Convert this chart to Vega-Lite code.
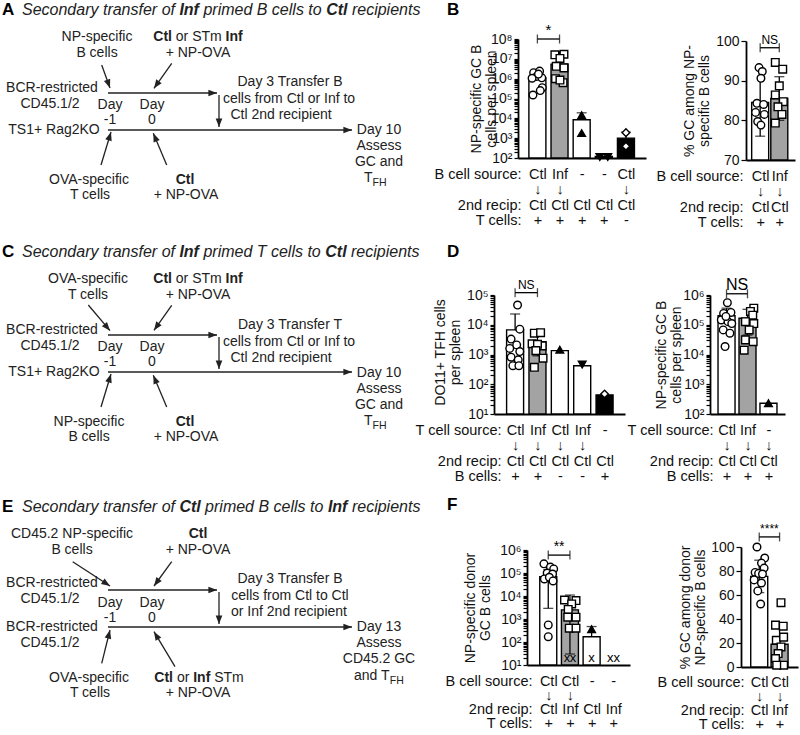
{
"$schema": "https://vega.github.io/schema/vega-lite/v6.json",
"padding": 0,
"background": "white",
"columns": 3,
"spacing": 0,
"bounds": "flush",
"align": "each",
"config": {"view": {"stroke": null}, "font": "Liberation Sans", "axis": {"labelFont": "Liberation Sans", "titleFont": "Liberation Sans"}},
"datasets": {
"sA": [
{"k":"lt","x":2,"y":15,"t":"A"},
{"k":"hi","x":22,"y":15,"t":"Secondary transfer of"},
{"k":"hb","x":179.4,"y":15,"t":"Inf"},
{"k":"hi","x":203.4,"y":15,"t":"primed B cells to"},
{"k":"hb","x":326.2,"y":15,"t":"Ctl"},
{"k":"hi","x":351.9,"y":15,"t":"recipients"},
{"k":"lt","x":447,"y":15,"t":"B"},
{"k":"c","x":97,"y":41,"t":"NP-specific"},
{"k":"c","x":97,"y":57,"t":"B cells"},
{"k":"b","x":153.3,"y":41,"t":"Ctl"},
{"k":"l","x":175.8,"y":41,"t":"or STm"},
{"k":"b","x":225.6,"y":41,"t":"Inf"},
{"k":"c","x":198,"y":57,"t":"+ NP-OVA"},
{"k":"c","x":52,"y":92,"t":"BCR-restricted"},
{"k":"c","x":50,"y":108,"t":"CD45.1/2"},
{"k":"c","x":110,"y":108.5,"t":"Day"},
{"k":"c","x":152,"y":108.5,"t":"Day"},
{"k":"c","x":110,"y":124,"t":"-1"},
{"k":"c","x":152,"y":124,"t":"0"},
{"k":"c","x":54,"y":134,"t":"TS1+ Rag2KO"},
{"k":"c","x":290,"y":86,"t":"Day 3 Transfer B"},
{"k":"c","x":289,"y":103,"t":"cells from Ctl or Inf to"},
{"k":"c","x":281,"y":119,"t":"Ctl 2nd recipient"},
{"k":"c","x":379,"y":134,"t":"Day 10"},
{"k":"c","x":379,"y":150,"t":"Assess"},
{"k":"c","x":379,"y":166,"t":"GC and"},
{"k":"l","x":364,"y":182,"t":"T"},
{"k":"s","x":372.5,"y":186,"t":"FH"},
{"k":"c","x":89,"y":184,"t":"OVA-specific"},
{"k":"c","x":90,"y":199,"t":"T cells"},
{"k":"bc","x":185,"y":184,"t":"Ctl"},
{"k":"c","x":186,"y":199,"t":"+ NP-OVA"},
{"k":"ar","x":101.7,"y":65,"x2":110,"y2":88,"a":160},
{"k":"ar","x":171.7,"y":63.3,"x2":154,"y2":88.3,"a":215},
{"k":"ar","x":108,"y":93,"x2":217,"y2":93,"a":90},
{"k":"ar","x":108,"y":130,"x2":352,"y2":130,"a":90},
{"k":"ar","x":219,"y":95,"x2":219,"y2":127,"a":180},
{"k":"ar","x":101,"y":165,"x2":111,"y2":132,"a":17},
{"k":"ar","x":166.7,"y":165,"x2":153.3,"y2":133.3,"a":337}
],
"sC": [
{"k":"lt","x":2,"y":15,"t":"C"},
{"k":"hi","x":22,"y":15,"t":"Secondary transfer of"},
{"k":"hb","x":179.4,"y":15,"t":"Inf"},
{"k":"hi","x":203.4,"y":15,"t":"primed T cells to"},
{"k":"hb","x":325.3,"y":15,"t":"Ctl"},
{"k":"hi","x":351,"y":15,"t":"recipients"},
{"k":"lt","x":447,"y":15,"t":"D"},
{"k":"c","x":88,"y":41,"t":"OVA-specific"},
{"k":"c","x":88,"y":57,"t":"T cells"},
{"k":"b","x":153.3,"y":41,"t":"Ctl"},
{"k":"l","x":175.8,"y":41,"t":"or STm"},
{"k":"b","x":225.6,"y":41,"t":"Inf"},
{"k":"c","x":198,"y":57,"t":"+ NP-OVA"},
{"k":"c","x":52,"y":92,"t":"BCR-restricted"},
{"k":"c","x":50,"y":108,"t":"CD45.1/2"},
{"k":"c","x":110,"y":108.5,"t":"Day"},
{"k":"c","x":152,"y":108.5,"t":"Day"},
{"k":"c","x":110,"y":124,"t":"-1"},
{"k":"c","x":152,"y":124,"t":"0"},
{"k":"c","x":54,"y":134,"t":"TS1+ Rag2KO"},
{"k":"c","x":290,"y":87,"t":"Day 3 Transfer T"},
{"k":"c","x":289,"y":104,"t":"cells from Ctl or Inf to"},
{"k":"c","x":281,"y":120,"t":"Ctl 2nd recipient"},
{"k":"c","x":379,"y":135,"t":"Day 10"},
{"k":"c","x":379,"y":151,"t":"Assess"},
{"k":"c","x":379,"y":167,"t":"GC and"},
{"k":"l","x":364,"y":183,"t":"T"},
{"k":"s","x":372.5,"y":187,"t":"FH"},
{"k":"c","x":89,"y":184,"t":"NP-specific"},
{"k":"c","x":89,"y":199,"t":"B cells"},
{"k":"bc","x":185,"y":184,"t":"Ctl"},
{"k":"c","x":186,"y":199,"t":"+ NP-OVA"},
{"k":"ar","x":88.3,"y":63,"x2":110,"y2":88.7,"a":140},
{"k":"ar","x":171.7,"y":63.3,"x2":154,"y2":88.3,"a":215},
{"k":"ar","x":108,"y":93,"x2":217,"y2":93,"a":90},
{"k":"ar","x":108,"y":130,"x2":352,"y2":130,"a":90},
{"k":"ar","x":219,"y":95,"x2":219,"y2":127,"a":180},
{"k":"ar","x":101,"y":165,"x2":111,"y2":132,"a":17},
{"k":"ar","x":166.7,"y":165,"x2":153.3,"y2":133.3,"a":337}
],
"sE": [
{"k":"lt","x":2,"y":15,"t":"E"},
{"k":"hi","x":22,"y":15,"t":"Secondary transfer of"},
{"k":"hb","x":179.4,"y":15,"t":"Ctl"},
{"k":"hi","x":205.1,"y":15,"t":"primed B cells to"},
{"k":"hb","x":327.9,"y":15,"t":"Inf"},
{"k":"hi","x":351.9,"y":15,"t":"recipients"},
{"k":"lt","x":447,"y":13,"t":"F"},
{"k":"c","x":72,"y":41,"t":"CD45.2 NP-specific"},
{"k":"c","x":72,"y":57,"t":"B cells"},
{"k":"bc","x":198,"y":41,"t":"Ctl"},
{"k":"c","x":198,"y":57,"t":"+ NP-OVA"},
{"k":"c","x":52,"y":90,"t":"BCR-restricted"},
{"k":"c","x":50,"y":106,"t":"CD45.1/2"},
{"k":"c","x":110,"y":110,"t":"Day"},
{"k":"c","x":152,"y":110,"t":"Day"},
{"k":"c","x":110,"y":125,"t":"-1"},
{"k":"c","x":152,"y":125,"t":"0"},
{"k":"c","x":52,"y":134,"t":"BCR-restricted"},
{"k":"c","x":50,"y":150,"t":"CD45.1/2"},
{"k":"c","x":290,"y":86,"t":"Day 3 Transfer B"},
{"k":"c","x":290,"y":103,"t":"cells from Ctl to Ctl"},
{"k":"c","x":289,"y":119,"t":"or Inf 2nd recipient"},
{"k":"c","x":379,"y":134,"t":"Day 13"},
{"k":"c","x":379,"y":150,"t":"Assess"},
{"k":"c","x":379,"y":166,"t":"CD45.2 GC"},
{"k":"l","x":354,"y":183,"t":"and T"},
{"k":"s","x":389.8,"y":187,"t":"FH"},
{"k":"c","x":89,"y":185,"t":"OVA-specific"},
{"k":"c","x":90,"y":200,"t":"T cells"},
{"k":"b","x":154.3,"y":185,"t":"Ctl"},
{"k":"l","x":176.9,"y":185,"t":"or"},
{"k":"b","x":193.2,"y":185,"t":"Inf"},
{"k":"l","x":214.2,"y":185,"t":"STm"},
{"k":"c","x":198,"y":200,"t":"+ NP-OVA"},
{"k":"ar","x":72.7,"y":64.7,"x2":110,"y2":89,"a":123},
{"k":"ar","x":171.7,"y":64.7,"x2":154,"y2":89,"a":216},
{"k":"ar","x":108,"y":93,"x2":217,"y2":93,"a":90},
{"k":"ar","x":108,"y":130,"x2":352,"y2":130,"a":90},
{"k":"ar","x":219,"y":95,"x2":219,"y2":127,"a":180},
{"k":"ar","x":101.7,"y":166.3,"x2":110,"y2":133,"a":14},
{"k":"ar","x":175,"y":169.7,"x2":154,"y2":134.7,"a":329}
],
"b1": [{"x":1,"v":1100000,"hi":2000000},{"x":2,"v":5400000,"hi":23000000},{"x":3,"v":8500,"hi":19000},{"x":4,"v":120},{"x":5,"v":1000,"hi":2000}],
"b1p": [
{"bar":1,"x":0.83,"v":2000000},{"bar":1,"x":1.1,"v":2400000},{"bar":1,"x":0.97,"v":1300000},{"bar":1,"x":0.76,"v":1050000},{"bar":1,"x":1.2,"v":1100000},{"bar":1,"x":1.05,"v":1700000},{"bar":1,"x":1.22,"v":350000},{"bar":1,"x":0.8,"v":150000},{"bar":1,"x":1.13,"v":250000},
{"bar":2,"x":1.79,"v":16000000},{"bar":2,"x":2.2,"v":17000000},{"bar":2,"x":2.02,"v":10500000},{"bar":2,"x":1.85,"v":4200000},{"bar":2,"x":2.2,"v":3500000},{"bar":2,"x":1.82,"v":1000000},{"bar":2,"x":2.16,"v":630000},{"bar":2,"x":2.02,"v":850000},
{"bar":3,"x":3,"v":14500},{"bar":3,"x":3,"v":1800},
{"bar":4,"x":3.82,"v":112},{"bar":4,"x":4.18,"v":112},
{"bar":5,"x":5,"v":1900},{"bar":5,"x":5,"v":390}
],
"b1s": [{"x":1,"x2":2,"xm":1.5,"v":100000000,"t":"*"}],
"b2": [{"x":1,"v":84.5,"hi":93,"lo":76},{"x":2,"v":85.5,"hi":91,"lo":80}],
"b2p": [
{"bar":1,"x":0.94,"v":93.3},{"bar":1,"x":1.11,"v":92.3},{"bar":1,"x":1.04,"v":90.6},{"bar":1,"x":0.83,"v":84.3},{"bar":1,"x":1.18,"v":84.0},{"bar":1,"x":0.76,"v":82.0},{"bar":1,"x":1.22,"v":81.5},{"bar":1,"x":0.87,"v":79.7},{"bar":1,"x":1.04,"v":78.8},
{"bar":2,"x":1.79,"v":94.6},{"bar":2,"x":2.18,"v":92.9},{"bar":2,"x":2.0,"v":88.7},{"bar":2,"x":1.79,"v":86.4},{"bar":2,"x":2.21,"v":84.7},{"bar":2,"x":1.93,"v":83.4},{"bar":2,"x":2.14,"v":81.5},{"bar":2,"x":1.79,"v":79.3}
],
"b2s": [{"x":1,"x2":2,"xm":1.5,"v":98.3,"t":"NS"}],
"d1": [{"x":1,"v":6700,"hi":23000},{"x":2,"v":2700,"hi":6700,"lo":900},{"x":3,"v":1350},{"x":4,"v":420},{"x":5,"v":44}],
"d1p": [
{"bar":1,"x":1.11,"v":46000},{"bar":1,"x":1.21,"v":7100},{"bar":1,"x":0.82,"v":3300},{"bar":1,"x":1.07,"v":2100},{"bar":1,"x":0.76,"v":1600},{"bar":1,"x":1.21,"v":1250},{"bar":1,"x":0.82,"v":810},{"bar":1,"x":1.14,"v":660},{"bar":1,"x":0.9,"v":420},{"bar":1,"x":1.17,"v":420},
{"bar":2,"x":1.86,"v":5200},{"bar":2,"x":2.14,"v":5400},{"bar":2,"x":1.76,"v":2300},{"bar":2,"x":2.21,"v":1950},{"bar":2,"x":2.0,"v":2200},{"bar":2,"x":1.93,"v":1350},{"bar":2,"x":2.25,"v":750},{"bar":2,"x":1.86,"v":370},
{"bar":3,"x":3,"v":1450},{"bar":4,"x":4,"v":460},{"bar":5,"x":5,"v":47}
],
"d1s": [{"x":1,"x2":2,"xm":1.5,"v":120000,"t":"NS"}],
"d2": [{"x":1,"v":200000,"hi":360000},{"x":2,"v":165000,"hi":330000,"lo":45000},{"x":3,"v":230}],
"d2p": [
{"bar":1,"x":1.04,"v":550000},{"bar":1,"x":0.86,"v":240000},{"bar":1,"x":1.21,"v":260000},{"bar":1,"x":0.75,"v":145000},{"bar":1,"x":1.07,"v":127000},{"bar":1,"x":1.25,"v":110000},{"bar":1,"x":0.84,"v":67000},{"bar":1,"x":1.16,"v":52000},{"bar":1,"x":0.97,"v":190000},{"bar":1,"x":0.93,"v":18500},
{"bar":2,"x":2.3,"v":360000},{"bar":2,"x":2.14,"v":280000},{"bar":2,"x":2.25,"v":210000},{"bar":2,"x":1.9,"v":127000},{"bar":2,"x":2.3,"v":110000},{"bar":2,"x":2.08,"v":67000},{"bar":2,"x":1.9,"v":31000},{"bar":2,"x":2.27,"v":27000},{"bar":2,"x":1.84,"v":14000},
{"bar":3,"x":3,"v":230}
],
"d2s": [{"x":1,"x2":2,"xm":1.5,"v":1100000,"t":"NS"}],
"f1": [{"x":1,"v":69000,"hi":140000,"lo":2900},{"x":2,"v":2500,"hi":11000,"lo":30},{"x":3,"v":170,"hi":470}],
"f1p": [
{"bar":1,"x":0.8,"v":250000},{"bar":1,"x":1.1,"v":180000},{"bar":1,"x":1.25,"v":150000},{"bar":1,"x":0.95,"v":100000},{"bar":1,"x":1.2,"v":90000},{"bar":1,"x":0.82,"v":55000},{"bar":1,"x":1.05,"v":65000},{"bar":1,"x":1.22,"v":45000},{"bar":1,"x":1.0,"v":550},{"bar":1,"x":1.0,"v":170},
{"bar":2,"x":1.75,"v":6700},{"bar":2,"x":2.28,"v":6300},{"bar":2,"x":2.08,"v":4500},{"bar":2,"x":1.92,"v":2600},{"bar":2,"x":1.9,"v":1200},{"bar":2,"x":2.28,"v":1200},{"bar":2,"x":1.97,"v":400},{"bar":2,"x":2.28,"v":400},
{"bar":3,"x":3,"v":360}
],
"f1x": [{"x":1.86,"v":20},{"x":2.14,"v":20},{"x":3,"v":20},{"x":3.86,"v":20},{"x":4.16,"v":20}],
"f1s": [{"x":1,"x2":2,"xm":1.5,"v":600000,"t":"**"}],
"f2": [{"x":1,"v":75.5,"hi":89,"lo":62},{"x":2,"v":19,"hi":36.5,"lo":2}],
"f2p": [
{"bar":1,"x":0.89,"v":100},{"bar":1,"x":1.27,"v":90.8},{"bar":1,"x":1.11,"v":86.6},{"bar":1,"x":1.24,"v":82.4},{"bar":1,"x":0.8,"v":78.8},{"bar":1,"x":0.97,"v":78},{"bar":1,"x":1.16,"v":77.5},{"bar":1,"x":0.75,"v":72.6},{"bar":1,"x":1.11,"v":70},{"bar":1,"x":0.93,"v":63.4},{"bar":1,"x":1.07,"v":52.5},
{"bar":2,"x":2.07,"v":53.6},{"bar":2,"x":1.8,"v":34.9},{"bar":2,"x":2.18,"v":34},{"bar":2,"x":1.84,"v":22.3},{"bar":2,"x":2.2,"v":24.9},{"bar":2,"x":2.07,"v":16.7},{"bar":2,"x":1.93,"v":11.2},{"bar":2,"x":1.8,"v":7},{"bar":2,"x":2.2,"v":1.5},{"bar":2,"x":1.86,"v":1.5}
],
"f2s": [{"x":1,"x2":2,"xm":1.5,"v":108.4,"t":"****"}]
},
"concat": [
{
"width": 494, "height": 242,
"data": {"name": "sA"},
"encoding": {
"x": {"field": "x", "type": "quantitative", "scale": {"domain": [0, 494], "nice": false, "zero": false}, "axis": null},
"y": {"field": "y", "type": "quantitative", "scale": {"domain": [0, 242], "nice": false, "zero": false, "reverse": true}, "axis": null}
},
"layer": [
{"transform": [{"filter": "datum.k == 'ar'"}], "mark": {"type": "rule", "color": "#222", "strokeWidth": 1.3}, "encoding": {"x2": {"field": "x2"}, "y2": {"field": "y2"}}},
{"transform": [{"filter": "datum.k == 'ar'"}], "mark": {"type": "point", "shape": "M0,0L1,2.6L-1,2.6Z", "filled": true, "size": 44, "color": "#222", "opacity": 1, "strokeWidth": 0}, "encoding": {"x": {"field": "x2", "type": "quantitative", "axis": null}, "y": {"field": "y2", "type": "quantitative", "axis": null}, "angle": {"field": "a", "type": "quantitative", "scale": null}}},
{"transform": [{"filter": "datum.k == 'c'"}], "mark": {"type": "text", "fontSize": 14, "align": "center", "baseline": "alphabetic", "color": "#222"}, "encoding": {"text": {"field": "t"}}},
{"transform": [{"filter": "datum.k == 'l'"}], "mark": {"type": "text", "fontSize": 14, "align": "left", "baseline": "alphabetic", "color": "#222"}, "encoding": {"text": {"field": "t"}}},
{"transform": [{"filter": "datum.k == 'b'"}], "mark": {"type": "text", "fontSize": 14, "fontWeight": "bold", "align": "left", "baseline": "alphabetic", "color": "#222"}, "encoding": {"text": {"field": "t"}}},
{"transform": [{"filter": "datum.k == 'bc'"}], "mark": {"type": "text", "fontSize": 14, "fontWeight": "bold", "align": "center", "baseline": "alphabetic", "color": "#222"}, "encoding": {"text": {"field": "t"}}},
{"transform": [{"filter": "datum.k == 's'"}], "mark": {"type": "text", "fontSize": 10.5, "align": "left", "baseline": "alphabetic", "color": "#222"}, "encoding": {"text": {"field": "t"}}},
{"transform": [{"filter": "datum.k == 'lt'"}], "mark": {"type": "text", "fontSize": 17, "fontWeight": "bold", "align": "left", "baseline": "alphabetic", "color": "#000"}, "encoding": {"text": {"field": "t"}}},
{"transform": [{"filter": "datum.k == 'hi'"}], "mark": {"type": "text", "fontSize": 16, "fontStyle": "italic", "align": "left", "baseline": "alphabetic", "color": "#222"}, "encoding": {"text": {"field": "t"}}},
{"transform": [{"filter": "datum.k == 'hb'"}], "mark": {"type": "text", "fontSize": 16, "fontStyle": "italic", "fontWeight": "bold", "align": "left", "baseline": "alphabetic", "color": "#222"}, "encoding": {"text": {"field": "t"}}}
]
},
{
"width": 216, "height": 158,
"encoding": {
"x": {"field": "x", "type": "quantitative", "scale": {"domain": [0.35, 5.68], "nice": false, "zero": false, "rangeMin": 24, "rangeMax": 152},
"axis": {"values": [1,2,3,4,5], "labelExpr": "split(['Ctl|↓|Ctl|+','Inf|↓|Ctl|+','-|\u2800|Ctl|+','-|\u2800|Ctl|+','Ctl|↓|Ctl|-'][datum.value-1], '|')", "ticks": false, "tickSize": 0, "grid": false, "domainColor": "black", "domainWidth": 1.8, "labelFontSize": 14.5, "labelColor": "#111", "labelPadding": 9, "labelBaseline": "top", "labelLineHeight": 15.5, "labelOverlap": false, "labelFlush": false, "title": ["B cell source:", "\u2800", "2nd recip:", "T cells:"], "titleFontSize": 14.5, "titleFontWeight": "normal", "titleColor": "#111", "titleAlign": "right", "titleAngle": 0, "titleX": 27, "titleY": 9, "titleBaseline": "top", "titleLineHeight": 15.5}},
"y": {"field": "v", "type": "quantitative", "scale": {"type": "log", "domain": [100, 100000000], "nice": false, "rangeMax": 39},
"axis": {"values": [100,200,300,400,500,600,700,800,900,1000,2000,3000,4000,5000,6000,7000,8000,9000,1e4,2e4,3e4,4e4,5e4,6e4,7e4,8e4,9e4,1e5,2e5,3e5,4e5,5e5,6e5,7e5,8e5,9e5,1e6,2e6,3e6,4e6,5e6,6e6,7e6,8e6,9e6,1e7,2e7,3e7,4e7,5e7,6e7,7e7,8e7,9e7,1e8], "labelExpr": "indexof([10,100,1000,10000,100000,1000000,10000000,100000000], datum.value) >= 0 ? '10' + ['⁰','¹','²','³','⁴','⁵','⁶','⁷','⁸'][round(log(datum.value)/LN10)] : ''", "offset": -24, "grid": false, "tickSize": 4, "tickWidth": 1.2, "tickColor": "black", "domainColor": "black", "domainWidth": 1.8, "labelFontSize": 14, "labelColor": "#111", "labelPadding": 2, "labelOverlap": false, "labelFlush": false, "title": ["NP-specific GC B", "cells per spleen"], "titleFontSize": 14, "titleFontWeight": "normal", "titleColor": "#111", "titleX": -42, "titleY": 98.5, "titleAngle": -90, "titleAlign": "center", "titleBaseline": "middle", "titleLineHeight": 15.5}}
},
"layer": [
{"data": {"name": "b1"}, "mark": {"type": "bar", "width": 17, "stroke": "black", "strokeWidth": 1.4}, "encoding": {"y2": {"datum": 100}, "color": {"field": "x", "type": "ordinal", "scale": {"domain": [1,2,3,4,5], "range": ["#ffffff","#a3a3a3","#ffffff","#ffffff","#000000"]}, "legend": null}}},
{"data": {"name": "b1"}, "transform": [{"filter": "isValid(datum.hi)"}], "mark": {"type": "rule", "color": "black", "strokeWidth": 1.3}, "encoding": {"y2": {"field": "hi"}}},
{"data": {"name": "b1"}, "transform": [{"filter": "isValid(datum.hi)"}], "mark": {"type": "tick", "orient": "horizontal", "size": 10, "thickness": 1.3, "color": "black"}, "encoding": {"y": {"field": "hi", "type": "quantitative"}}},
{"data": {"name": "b1p"}, "mark": {"type": "point", "filled": true, "size": 58, "stroke": "black", "strokeWidth": 1.4, "opacity": 1}, "encoding": {"shape": {"field": "bar", "type": "nominal", "scale": {"domain": [1,2,3,4,5], "range": ["circle","square","triangle-up","triangle-down","diamond"]}, "legend": null}, "fill": {"field": "bar", "type": "nominal", "scale": {"domain": [1,2,3,4,5], "range": ["white","white","black","black","white"]}, "legend": null}}},
{"data": {"name": "b1s"}, "mark": {"type": "rule", "color": "black", "strokeWidth": 1.3}, "encoding": {"x2": {"field": "x2"}}},
{"data": {"name": "b1s"}, "mark": {"type": "tick", "orient": "vertical", "size": 9, "thickness": 1.3, "color": "black"}},
{"data": {"name": "b1s"}, "mark": {"type": "tick", "orient": "vertical", "size": 9, "thickness": 1.3, "color": "black"}, "encoding": {"x": {"field": "x2", "type": "quantitative"}}},
{"data": {"name": "b1s"}, "mark": {"type": "text", "baseline": "bottom", "dy": -1, "fontSize": 15, "color": "black"}, "encoding": {"x": {"field": "xm", "type": "quantitative"}, "text": {"field": "t"}}}
]
},
{
"width": 90, "height": 160,
"encoding": {
"x": {"field": "x", "type": "quantitative", "scale": {"domain": [0.52, 2.56], "nice": false, "zero": false, "rangeMin": 36, "rangeMax": 85},
"axis": {"values": [1,2], "labelExpr": "split(['Ctl|↓|Ctl|+','Inf|↓|Ctl|+'][datum.value-1], '|')", "ticks": false, "tickSize": 0, "grid": false, "domainColor": "black", "domainWidth": 1.8, "labelFontSize": 14.5, "labelColor": "#111", "labelPadding": 9, "labelBaseline": "top", "labelLineHeight": 15.5, "labelOverlap": false, "labelFlush": false, "title": ["B cell source:", "\u2800", "2nd recip:", "T cells:"], "titleFontSize": 14.5, "titleFontWeight": "normal", "titleColor": "#111", "titleAlign": "right", "titleAngle": 0, "titleX": 33, "titleY": 9, "titleBaseline": "top", "titleLineHeight": 15.5}},
"y": {"field": "v", "type": "quantitative", "scale": {"domain": [70, 100], "nice": false, "zero": false, "rangeMax": 41},
"axis": {"values": [70,80,90,100], "offset": -36, "grid": false, "tickSize": 5, "tickWidth": 1.2, "tickColor": "black", "domainColor": "black", "domainWidth": 1.8, "labelFontSize": 14, "labelColor": "#111", "labelPadding": 2, "labelOverlap": false, "labelFlush": false, "title": ["% GC among NP-", "specific B cells"], "titleFontSize": 14, "titleFontWeight": "normal", "titleColor": "#111", "titleX": -57, "titleY": 100.5, "titleAngle": -90, "titleAlign": "center", "titleBaseline": "middle", "titleLineHeight": 15}}
},
"layer": [
{"data": {"name": "b2"}, "mark": {"type": "bar", "width": 17, "stroke": "black", "strokeWidth": 1.4}, "encoding": {"y2": {"datum": 70}, "color": {"field": "x", "type": "ordinal", "scale": {"domain": [1,2], "range": ["#ffffff","#a3a3a3"]}, "legend": null}}},
{"data": {"name": "b2"}, "mark": {"type": "rule", "color": "black", "strokeWidth": 1.3}, "encoding": {"y": {"field": "lo", "type": "quantitative"}, "y2": {"field": "hi"}}},
{"data": {"name": "b2"}, "mark": {"type": "tick", "orient": "horizontal", "size": 10, "thickness": 1.3, "color": "black"}, "encoding": {"y": {"field": "hi", "type": "quantitative"}}},
{"data": {"name": "b2"}, "mark": {"type": "tick", "orient": "horizontal", "size": 10, "thickness": 1.3, "color": "black"}, "encoding": {"y": {"field": "lo", "type": "quantitative"}}},
{"data": {"name": "b2p"}, "mark": {"type": "point", "filled": true, "size": 58, "stroke": "black", "strokeWidth": 1.4, "opacity": 1, "fill": "white"}, "encoding": {"shape": {"field": "bar", "type": "nominal", "scale": {"domain": [1,2], "range": ["circle","square"]}, "legend": null}}},
{"data": {"name": "b2s"}, "mark": {"type": "rule", "color": "black", "strokeWidth": 1.3}, "encoding": {"x2": {"field": "x2"}}},
{"data": {"name": "b2s"}, "mark": {"type": "tick", "orient": "vertical", "size": 9, "thickness": 1.3, "color": "black"}},
{"data": {"name": "b2s"}, "mark": {"type": "tick", "orient": "vertical", "size": 9, "thickness": 1.3, "color": "black"}, "encoding": {"x": {"field": "x2", "type": "quantitative"}}},
{"data": {"name": "b2s"}, "mark": {"type": "text", "baseline": "bottom", "dy": -1, "fontSize": 12, "color": "black"}, "encoding": {"x": {"field": "xm", "type": "quantitative"}, "text": {"field": "t"}}}
]
},
{
"width": 494, "height": 255,
"data": {"name": "sC"},
"encoding": {
"x": {"field": "x", "type": "quantitative", "scale": {"domain": [0, 494], "nice": false, "zero": false}, "axis": null},
"y": {"field": "y", "type": "quantitative", "scale": {"domain": [0, 255], "nice": false, "zero": false, "reverse": true}, "axis": null}
},
"layer": [
{"transform": [{"filter": "datum.k == 'ar'"}], "mark": {"type": "rule", "color": "#222", "strokeWidth": 1.3}, "encoding": {"x2": {"field": "x2"}, "y2": {"field": "y2"}}},
{"transform": [{"filter": "datum.k == 'ar'"}], "mark": {"type": "point", "shape": "M0,0L1,2.6L-1,2.6Z", "filled": true, "size": 44, "color": "#222", "opacity": 1, "strokeWidth": 0}, "encoding": {"x": {"field": "x2", "type": "quantitative", "axis": null}, "y": {"field": "y2", "type": "quantitative", "axis": null}, "angle": {"field": "a", "type": "quantitative", "scale": null}}},
{"transform": [{"filter": "datum.k == 'c'"}], "mark": {"type": "text", "fontSize": 14, "align": "center", "baseline": "alphabetic", "color": "#222"}, "encoding": {"text": {"field": "t"}}},
{"transform": [{"filter": "datum.k == 'l'"}], "mark": {"type": "text", "fontSize": 14, "align": "left", "baseline": "alphabetic", "color": "#222"}, "encoding": {"text": {"field": "t"}}},
{"transform": [{"filter": "datum.k == 'b'"}], "mark": {"type": "text", "fontSize": 14, "fontWeight": "bold", "align": "left", "baseline": "alphabetic", "color": "#222"}, "encoding": {"text": {"field": "t"}}},
{"transform": [{"filter": "datum.k == 'bc'"}], "mark": {"type": "text", "fontSize": 14, "fontWeight": "bold", "align": "center", "baseline": "alphabetic", "color": "#222"}, "encoding": {"text": {"field": "t"}}},
{"transform": [{"filter": "datum.k == 's'"}], "mark": {"type": "text", "fontSize": 10.5, "align": "left", "baseline": "alphabetic", "color": "#222"}, "encoding": {"text": {"field": "t"}}},
{"transform": [{"filter": "datum.k == 'lt'"}], "mark": {"type": "text", "fontSize": 17, "fontWeight": "bold", "align": "left", "baseline": "alphabetic", "color": "#000"}, "encoding": {"text": {"field": "t"}}},
{"transform": [{"filter": "datum.k == 'hi'"}], "mark": {"type": "text", "fontSize": 16, "fontStyle": "italic", "align": "left", "baseline": "alphabetic", "color": "#222"}, "encoding": {"text": {"field": "t"}}},
{"transform": [{"filter": "datum.k == 'hb'"}], "mark": {"type": "text", "fontSize": 16, "fontStyle": "italic", "fontWeight": "bold", "align": "left", "baseline": "alphabetic", "color": "#222"}, "encoding": {"text": {"field": "t"}}}
]
},
{
"width": 216, "height": 172,
"encoding": {
"x": {"field": "x", "type": "quantitative", "scale": {"domain": [0.28, 5.69], "nice": false, "zero": false, "rangeMin": 0, "rangeMax": 131},
"axis": {"values": [1,2,3,4,5], "labelExpr": "split(['Ctl|↓|Ctl|+','Inf|↓|Ctl|+','Ctl|↓|Ctl|-','Inf|↓|Ctl|-','-|\u2800|Ctl|+'][datum.value-1], '|')", "ticks": false, "tickSize": 0, "grid": false, "domainColor": "black", "domainWidth": 1.8, "labelFontSize": 14.5, "labelColor": "#111", "labelPadding": 9, "labelBaseline": "top", "labelLineHeight": 15.5, "labelOverlap": false, "labelFlush": false, "title": ["T cell source:", "\u2800", "2nd recip:", "B cells:"], "titleFontSize": 14.5, "titleFontWeight": "normal", "titleColor": "#111", "titleAlign": "right", "titleAngle": 0, "titleX": 7, "titleY": 9, "titleBaseline": "top", "titleLineHeight": 15.5}},
"y": {"field": "v", "type": "quantitative", "scale": {"type": "log", "domain": [10, 100000], "nice": false, "rangeMax": 53},
"axis": {"values": [10,20,30,40,50,60,70,80,90,100,200,300,400,500,600,700,800,900,1000,2000,3000,4000,5000,6000,7000,8000,9000,1e4,2e4,3e4,4e4,5e4,6e4,7e4,8e4,9e4,1e5], "labelExpr": "indexof([10,100,1000,10000,100000,1000000,10000000,100000000], datum.value) >= 0 ? '10' + ['⁰','¹','²','³','⁴','⁵','⁶','⁷','⁸'][round(log(datum.value)/LN10)] : ''", "offset": 0, "grid": false, "tickSize": 4, "tickWidth": 1.2, "tickColor": "black", "domainColor": "black", "domainWidth": 1.8, "labelFontSize": 14, "labelColor": "#111", "labelPadding": 2, "labelOverlap": false, "labelFlush": false, "title": ["DO11+ TFH cells", "per spleen"], "titleFontSize": 14, "titleFontWeight": "normal", "titleColor": "#111", "titleX": -54, "titleY": 110, "titleAngle": -90, "titleAlign": "center", "titleBaseline": "middle", "titleLineHeight": 15}}
},
"layer": [
{"data": {"name": "d1"}, "mark": {"type": "bar", "width": 17, "stroke": "black", "strokeWidth": 1.4}, "encoding": {"y2": {"datum": 10}, "color": {"field": "x", "type": "ordinal", "scale": {"domain": [1,2,3,4,5], "range": ["#ffffff","#a3a3a3","#ffffff","#a3a3a3","#000000"]}, "legend": null}}},
{"data": {"name": "d1"}, "transform": [{"filter": "isValid(datum.hi)"}], "mark": {"type": "rule", "color": "black", "strokeWidth": 1.3}, "encoding": {"y2": {"field": "hi"}}},
{"data": {"name": "d1"}, "transform": [{"filter": "isValid(datum.hi)"}], "mark": {"type": "tick", "orient": "horizontal", "size": 10, "thickness": 1.3, "color": "black"}, "encoding": {"y": {"field": "hi", "type": "quantitative"}}},
{"data": {"name": "d1"}, "transform": [{"filter": "isValid(datum.lo)"}], "mark": {"type": "rule", "color": "black", "strokeWidth": 1.3}, "encoding": {"y2": {"field": "lo"}}},
{"data": {"name": "d1"}, "transform": [{"filter": "isValid(datum.lo)"}], "mark": {"type": "tick", "orient": "horizontal", "size": 10, "thickness": 1.3, "color": "black"}, "encoding": {"y": {"field": "lo", "type": "quantitative"}}},
{"data": {"name": "d1p"}, "mark": {"type": "point", "filled": true, "size": 58, "stroke": "black", "strokeWidth": 1.4, "opacity": 1}, "encoding": {"shape": {"field": "bar", "type": "nominal", "scale": {"domain": [1,2,3,4,5], "range": ["circle","square","triangle-up","triangle-down","diamond"]}, "legend": null}, "fill": {"field": "bar", "type": "nominal", "scale": {"domain": [1,2,3,4,5], "range": ["white","white","black","black","white"]}, "legend": null}}},
{"data": {"name": "d1s"}, "mark": {"type": "rule", "color": "black", "strokeWidth": 1.3}, "encoding": {"x2": {"field": "x2"}}},
{"data": {"name": "d1s"}, "mark": {"type": "tick", "orient": "vertical", "size": 9, "thickness": 1.3, "color": "black"}},
{"data": {"name": "d1s"}, "mark": {"type": "tick", "orient": "vertical", "size": 9, "thickness": 1.3, "color": "black"}, "encoding": {"x": {"field": "x2", "type": "quantitative"}}},
{"data": {"name": "d1s"}, "mark": {"type": "text", "baseline": "bottom", "dy": -1, "fontSize": 12, "color": "black"}, "encoding": {"x": {"field": "xm", "type": "quantitative"}, "text": {"field": "t"}}}
]
},
{
"width": 90, "height": 172,
"encoding": {
"x": {"field": "x", "type": "quantitative", "scale": {"domain": [0.45, 3.55], "nice": false, "zero": false, "rangeMin": 0, "rangeMax": 75},
"axis": {"values": [1,2,3], "labelExpr": "split(['Ctl|↓|Ctl|+','Inf|↓|Ctl|+','-|↓|Ctl|+'][datum.value-1], '|')", "ticks": false, "tickSize": 0, "grid": false, "domainColor": "black", "domainWidth": 1.8, "labelFontSize": 14.5, "labelColor": "#111", "labelPadding": 9, "labelBaseline": "top", "labelLineHeight": 15.5, "labelOverlap": false, "labelFlush": false, "title": ["T cell source:", "\u2800", "2nd recip:", "B cells:"], "titleFontSize": 14.5, "titleFontWeight": "normal", "titleColor": "#111", "titleAlign": "right", "titleAngle": 0, "titleX": 3, "titleY": 9, "titleBaseline": "top", "titleLineHeight": 15.5}},
"y": {"field": "v", "type": "quantitative", "scale": {"type": "log", "domain": [100, 1000000], "nice": false, "rangeMax": 53},
"axis": {"values": [100,200,300,400,500,600,700,800,900,1000,2000,3000,4000,5000,6000,7000,8000,9000,1e4,2e4,3e4,4e4,5e4,6e4,7e4,8e4,9e4,1e5,2e5,3e5,4e5,5e5,6e5,7e5,8e5,9e5,1e6], "labelExpr": "indexof([10,100,1000,10000,100000,1000000,10000000,100000000], datum.value) >= 0 ? '10' + ['⁰','¹','²','³','⁴','⁵','⁶','⁷','⁸'][round(log(datum.value)/LN10)] : ''", "offset": 0, "grid": false, "tickSize": 4, "tickWidth": 1.2, "tickColor": "black", "domainColor": "black", "domainWidth": 1.8, "labelFontSize": 14, "labelColor": "#111", "labelPadding": 2, "labelOverlap": false, "labelFlush": false, "title": ["NP-specific GC B", "cells per spleen"], "titleFontSize": 14, "titleFontWeight": "normal", "titleColor": "#111", "titleX": -49, "titleY": 112.5, "titleAngle": -90, "titleAlign": "center", "titleBaseline": "middle", "titleLineHeight": 15}}
},
"layer": [
{"data": {"name": "d2"}, "mark": {"type": "bar", "width": 17, "stroke": "black", "strokeWidth": 1.4}, "encoding": {"y2": {"datum": 100}, "color": {"field": "x", "type": "ordinal", "scale": {"domain": [1,2,3], "range": ["#ffffff","#a3a3a3","#ffffff"]}, "legend": null}}},
{"data": {"name": "d2"}, "transform": [{"filter": "isValid(datum.hi)"}], "mark": {"type": "rule", "color": "black", "strokeWidth": 1.3}, "encoding": {"y2": {"field": "hi"}}},
{"data": {"name": "d2"}, "transform": [{"filter": "isValid(datum.hi)"}], "mark": {"type": "tick", "orient": "horizontal", "size": 10, "thickness": 1.3, "color": "black"}, "encoding": {"y": {"field": "hi", "type": "quantitative"}}},
{"data": {"name": "d2"}, "transform": [{"filter": "isValid(datum.lo)"}], "mark": {"type": "rule", "color": "black", "strokeWidth": 1.3}, "encoding": {"y2": {"field": "lo"}}},
{"data": {"name": "d2"}, "transform": [{"filter": "isValid(datum.lo)"}], "mark": {"type": "tick", "orient": "horizontal", "size": 10, "thickness": 1.3, "color": "black"}, "encoding": {"y": {"field": "lo", "type": "quantitative"}}},
{"data": {"name": "d2p"}, "mark": {"type": "point", "filled": true, "size": 58, "stroke": "black", "strokeWidth": 1.4, "opacity": 1}, "encoding": {"shape": {"field": "bar", "type": "nominal", "scale": {"domain": [1,2,3], "range": ["circle","square","diamond"]}, "legend": null}, "fill": {"field": "bar", "type": "nominal", "scale": {"domain": [1,2,3], "range": ["white","white","black"]}, "legend": null}}},
{"data": {"name": "d2s"}, "mark": {"type": "rule", "color": "black", "strokeWidth": 1.3}, "encoding": {"x2": {"field": "x2"}}},
{"data": {"name": "d2s"}, "mark": {"type": "tick", "orient": "vertical", "size": 9, "thickness": 1.3, "color": "black"}},
{"data": {"name": "d2s"}, "mark": {"type": "tick", "orient": "vertical", "size": 9, "thickness": 1.3, "color": "black"}, "encoding": {"x": {"field": "x2", "type": "quantitative"}}},
{"data": {"name": "d2s"}, "mark": {"type": "text", "baseline": "bottom", "dy": -1, "fontSize": 16, "color": "black"}, "encoding": {"x": {"field": "xm", "type": "quantitative"}, "text": {"field": "t"}}}
]
},
{
"width": 494, "height": 238,
"data": {"name": "sE"},
"encoding": {
"x": {"field": "x", "type": "quantitative", "scale": {"domain": [0, 494], "nice": false, "zero": false}, "axis": null},
"y": {"field": "y", "type": "quantitative", "scale": {"domain": [0, 238], "nice": false, "zero": false, "reverse": true}, "axis": null}
},
"layer": [
{"transform": [{"filter": "datum.k == 'ar'"}], "mark": {"type": "rule", "color": "#222", "strokeWidth": 1.3}, "encoding": {"x2": {"field": "x2"}, "y2": {"field": "y2"}}},
{"transform": [{"filter": "datum.k == 'ar'"}], "mark": {"type": "point", "shape": "M0,0L1,2.6L-1,2.6Z", "filled": true, "size": 44, "color": "#222", "opacity": 1, "strokeWidth": 0}, "encoding": {"x": {"field": "x2", "type": "quantitative", "axis": null}, "y": {"field": "y2", "type": "quantitative", "axis": null}, "angle": {"field": "a", "type": "quantitative", "scale": null}}},
{"transform": [{"filter": "datum.k == 'c'"}], "mark": {"type": "text", "fontSize": 14, "align": "center", "baseline": "alphabetic", "color": "#222"}, "encoding": {"text": {"field": "t"}}},
{"transform": [{"filter": "datum.k == 'l'"}], "mark": {"type": "text", "fontSize": 14, "align": "left", "baseline": "alphabetic", "color": "#222"}, "encoding": {"text": {"field": "t"}}},
{"transform": [{"filter": "datum.k == 'b'"}], "mark": {"type": "text", "fontSize": 14, "fontWeight": "bold", "align": "left", "baseline": "alphabetic", "color": "#222"}, "encoding": {"text": {"field": "t"}}},
{"transform": [{"filter": "datum.k == 'bc'"}], "mark": {"type": "text", "fontSize": 14, "fontWeight": "bold", "align": "center", "baseline": "alphabetic", "color": "#222"}, "encoding": {"text": {"field": "t"}}},
{"transform": [{"filter": "datum.k == 's'"}], "mark": {"type": "text", "fontSize": 10.5, "align": "left", "baseline": "alphabetic", "color": "#222"}, "encoding": {"text": {"field": "t"}}},
{"transform": [{"filter": "datum.k == 'lt'"}], "mark": {"type": "text", "fontSize": 17, "fontWeight": "bold", "align": "left", "baseline": "alphabetic", "color": "#000"}, "encoding": {"text": {"field": "t"}}},
{"transform": [{"filter": "datum.k == 'hi'"}], "mark": {"type": "text", "fontSize": 16, "fontStyle": "italic", "align": "left", "baseline": "alphabetic", "color": "#222"}, "encoding": {"text": {"field": "t"}}},
{"transform": [{"filter": "datum.k == 'hb'"}], "mark": {"type": "text", "fontSize": 16, "fontStyle": "italic", "fontWeight": "bold", "align": "left", "baseline": "alphabetic", "color": "#222"}, "encoding": {"text": {"field": "t"}}}
]
},
{
"width": 216, "height": 168,
"encoding": {
"x": {"field": "x", "type": "quantitative", "scale": {"domain": [0.25, 4.54], "nice": false, "zero": false, "rangeMin": 33, "rangeMax": 136},
"axis": {"values": [1,2,3,4], "labelExpr": "split(['Ctl|↓|Ctl|+','Ctl|↓|Inf|+','-|\u2800|Ctl|+','-|\u2800|Inf|+'][datum.value-1], '|')", "ticks": false, "tickSize": 0, "grid": false, "domainColor": "black", "domainWidth": 1.8, "labelFontSize": 14.5, "labelColor": "#111", "labelPadding": 9, "labelBaseline": "top", "labelLineHeight": 14, "labelOverlap": false, "labelFlush": false, "title": ["B cell source:", "\u2800", "2nd recip:", "T cells:"], "titleFontSize": 14.5, "titleFontWeight": "normal", "titleColor": "#111", "titleAlign": "right", "titleAngle": 0, "titleX": 38, "titleY": 9, "titleBaseline": "top", "titleLineHeight": 14}},
"y": {"field": "v", "type": "quantitative", "scale": {"type": "log", "domain": [10, 1000000], "nice": false, "rangeMax": 53},
"axis": {"values": [10,20,30,40,50,60,70,80,90,100,200,300,400,500,600,700,800,900,1000,2000,3000,4000,5000,6000,7000,8000,9000,1e4,2e4,3e4,4e4,5e4,6e4,7e4,8e4,9e4,1e5,2e5,3e5,4e5,5e5,6e5,7e5,8e5,9e5,1e6], "labelExpr": "indexof([10,100,1000,10000,100000,1000000,10000000,100000000], datum.value) >= 0 ? '10' + ['⁰','¹','²','³','⁴','⁵','⁶','⁷','⁸'][round(log(datum.value)/LN10)] : ''", "offset": -33, "grid": false, "tickSize": 4, "tickWidth": 1.2, "tickColor": "black", "domainColor": "black", "domainWidth": 1.8, "labelFontSize": 14, "labelColor": "#111", "labelPadding": 2, "labelOverlap": false, "labelFlush": false, "title": ["NP-specific donor", "GC B cells"], "titleFontSize": 14, "titleFontWeight": "normal", "titleColor": "#111", "titleX": -57, "titleY": 110.5, "titleAngle": -90, "titleAlign": "center", "titleBaseline": "middle", "titleLineHeight": 15}}
},
"layer": [
{"data": {"name": "f1"}, "mark": {"type": "bar", "width": 17, "stroke": "black", "strokeWidth": 1.4}, "encoding": {"y2": {"datum": 10}, "color": {"field": "x", "type": "ordinal", "scale": {"domain": [1,2,3], "range": ["#ffffff","#a3a3a3","#ffffff"]}, "legend": null}}},
{"data": {"name": "f1"}, "transform": [{"filter": "isValid(datum.hi)"}], "mark": {"type": "rule", "color": "black", "strokeWidth": 1.3}, "encoding": {"y2": {"field": "hi"}}},
{"data": {"name": "f1"}, "transform": [{"filter": "isValid(datum.hi)"}], "mark": {"type": "tick", "orient": "horizontal", "size": 10, "thickness": 1.3, "color": "black"}, "encoding": {"y": {"field": "hi", "type": "quantitative"}}},
{"data": {"name": "f1"}, "transform": [{"filter": "isValid(datum.lo)"}], "mark": {"type": "rule", "color": "black", "strokeWidth": 1.3}, "encoding": {"y2": {"field": "lo"}}},
{"data": {"name": "f1"}, "transform": [{"filter": "isValid(datum.lo)"}], "mark": {"type": "tick", "orient": "horizontal", "size": 10, "thickness": 1.3, "color": "black"}, "encoding": {"y": {"field": "lo", "type": "quantitative"}}},
{"data": {"name": "f1p"}, "mark": {"type": "point", "filled": true, "size": 58, "stroke": "black", "strokeWidth": 1.4, "opacity": 1}, "encoding": {"shape": {"field": "bar", "type": "nominal", "scale": {"domain": [1,2,3], "range": ["circle","square","triangle-up"]}, "legend": null}, "fill": {"field": "bar", "type": "nominal", "scale": {"domain": [1,2,3], "range": ["white","white","black"]}, "legend": null}}},
{"data": {"name": "f1x"}, "mark": {"type": "text", "text": "x", "fontSize": 13, "baseline": "middle", "color": "black"}},
{"data": {"name": "f1s"}, "mark": {"type": "rule", "color": "black", "strokeWidth": 1.3}, "encoding": {"x2": {"field": "x2"}}},
{"data": {"name": "f1s"}, "mark": {"type": "tick", "orient": "vertical", "size": 9, "thickness": 1.3, "color": "black"}},
{"data": {"name": "f1s"}, "mark": {"type": "tick", "orient": "vertical", "size": 9, "thickness": 1.3, "color": "black"}, "encoding": {"x": {"field": "x2", "type": "quantitative"}}},
{"data": {"name": "f1s"}, "mark": {"type": "text", "baseline": "bottom", "dy": -1, "fontSize": 14, "color": "black"}, "encoding": {"x": {"field": "xm", "type": "quantitative"}, "text": {"field": "t"}}}
]
},
{
"width": 90, "height": 170,
"encoding": {
"x": {"field": "x", "type": "quantitative", "scale": {"domain": [0.35, 2.66], "nice": false, "zero": false, "rangeMin": 31, "rangeMax": 88},
"axis": {"values": [1,2], "labelExpr": "split(['Ctl|↓|Ctl|+','Ctl|↓|Inf|+'][datum.value-1], '|')", "ticks": false, "tickSize": 0, "grid": false, "domainColor": "black", "domainWidth": 1.8, "labelFontSize": 14.5, "labelColor": "#111", "labelPadding": 8, "labelBaseline": "top", "labelLineHeight": 14, "labelOverlap": false, "labelFlush": false, "title": ["B cell source:", "\u2800", "2nd recip:", "T cells:"], "titleFontSize": 14.5, "titleFontWeight": "normal", "titleColor": "#111", "titleAlign": "right", "titleAngle": 0, "titleX": 34, "titleY": 8, "titleBaseline": "top", "titleLineHeight": 14}},
"y": {"field": "v", "type": "quantitative", "scale": {"domain": [0, 100], "nice": false, "zero": false, "rangeMax": 50},
"axis": {"values": [0,20,40,60,80,100], "offset": -31, "grid": false, "tickSize": 5, "tickWidth": 1.2, "tickColor": "black", "domainColor": "black", "domainWidth": 1.8, "labelFontSize": 14, "labelColor": "#111", "labelPadding": 2, "labelOverlap": false, "labelFlush": false, "title": ["% GC among donor", "NP-specific B cells"], "titleFontSize": 14, "titleFontWeight": "normal", "titleColor": "#111", "titleX": -55.5, "titleY": 110, "titleAngle": -90, "titleAlign": "center", "titleBaseline": "middle", "titleLineHeight": 15}}
},
"layer": [
{"data": {"name": "f2"}, "mark": {"type": "bar", "width": 17, "stroke": "black", "strokeWidth": 1.4}, "encoding": {"y2": {"datum": 0}, "color": {"field": "x", "type": "ordinal", "scale": {"domain": [1,2], "range": ["#ffffff","#a3a3a3"]}, "legend": null}}},
{"data": {"name": "f2"}, "mark": {"type": "rule", "color": "black", "strokeWidth": 1.3}, "encoding": {"y": {"field": "lo", "type": "quantitative"}, "y2": {"field": "hi"}}},
{"data": {"name": "f2"}, "mark": {"type": "tick", "orient": "horizontal", "size": 10, "thickness": 1.3, "color": "black"}, "encoding": {"y": {"field": "hi", "type": "quantitative"}}},
{"data": {"name": "f2"}, "mark": {"type": "tick", "orient": "horizontal", "size": 10, "thickness": 1.3, "color": "black"}, "encoding": {"y": {"field": "lo", "type": "quantitative"}}},
{"data": {"name": "f2p"}, "mark": {"type": "point", "filled": true, "size": 58, "stroke": "black", "strokeWidth": 1.4, "opacity": 1, "fill": "white"}, "encoding": {"shape": {"field": "bar", "type": "nominal", "scale": {"domain": [1,2], "range": ["circle","square"]}, "legend": null}}},
{"data": {"name": "f2s"}, "mark": {"type": "rule", "color": "black", "strokeWidth": 1.3}, "encoding": {"x2": {"field": "x2"}}},
{"data": {"name": "f2s"}, "mark": {"type": "tick", "orient": "vertical", "size": 9, "thickness": 1.3, "color": "black"}},
{"data": {"name": "f2s"}, "mark": {"type": "tick", "orient": "vertical", "size": 9, "thickness": 1.3, "color": "black"}, "encoding": {"x": {"field": "x2", "type": "quantitative"}}},
{"data": {"name": "f2s"}, "mark": {"type": "text", "baseline": "bottom", "dy": -1, "fontSize": 12, "color": "black"}, "encoding": {"x": {"field": "xm", "type": "quantitative"}, "text": {"field": "t"}}}
]
}
]
}
